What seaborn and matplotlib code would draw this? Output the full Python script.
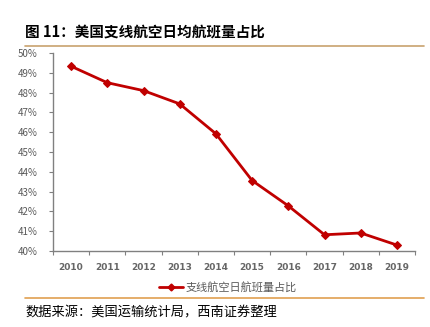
import matplotlib
matplotlib.use("Agg")
import matplotlib.pyplot as plt
import seaborn as sns
import pandas as pd
import numpy as np
from matplotlib.ticker import FixedLocator, FuncFormatter
from matplotlib.lines import Line2D

years = ["2010", "2011", "2012", "2013", "2014", "2015", "2016", "2017", "2018", "2019"]
share = [49.33, 48.50, 48.10, 47.43, 45.92, 43.56, 42.28, 40.82, 40.91, 40.30]
series_name = "支线航空日航班量占比"
title = "图 11：美国支线航空日均航班量占比"
source = "数据来源：美国运输统计局，西南证券整理"
y_ticks = [40, 41, 42, 43, 44, 45, 46, 47, 48, 49, 50]

sns.set_style("white")
plt.rcParams['font.family'] = ['Noto Sans CJK SC', 'DejaVu Sans']

df = pd.DataFrame({"year": years, "share": share})

fig = plt.figure(figsize=(4.31, 3.27), dpi=100)
ax = fig.add_axes([53/431, 1-251/327, (415-53)/431, (251-53)/327])

red = "#C00000"
sns.lineplot(data=df, x="year", y="share", ax=ax, color=red, linewidth=2,
             marker="D", markersize=4.5, markeredgecolor=red, sort=False, legend=False)

ax.set_ylim(40, 50)
ax.set_xlim(-0.5, len(years) - 0.5)
ax.set_yticks(y_ticks)
ax.yaxis.set_major_formatter(FuncFormatter(lambda v, p: f"{int(round(v))}%"))
ax.set_xticks(range(len(years)))
ax.set_xticklabels(years)
ax.xaxis.set_minor_locator(FixedLocator(np.arange(-0.5, len(years), 1.0)))
ax.set_xlabel("")
ax.set_ylabel("")

gray = "#595959"
for s in ["top", "right"]:
    ax.spines[s].set_visible(False)
for s in ["left", "bottom"]:
    ax.spines[s].set_color("#808080")
    ax.spines[s].set_linewidth(1.0)

ax.tick_params(axis="y", which="major", direction="out", length=3, width=0.8,
               color="#808080", labelsize=7, labelcolor=gray, pad=8, left=True)
ax.tick_params(axis="x", which="major", length=0, labelsize=6.5, labelcolor="#666666", pad=9)
ax.tick_params(axis="x", which="minor", direction="out", length=3, width=0.8,
               color="#808080", bottom=True)
for lab in ax.get_xticklabels():
    lab.set_fontweight("bold")
    lab.set_fontfamily(["DejaVu Sans"])

handle = Line2D([], [], color=red, linewidth=2, marker="D", markersize=3.5)
leg = fig.legend([handle], [series_name], loc="center", bbox_to_anchor=(228/431, 1-287/327),
                 frameon=False, fontsize=8, handlelength=2.2, handletextpad=0.2)
for t in leg.get_texts():
    t.set_color(gray)

fig.text(25/431, 1-32/327, title, fontsize=10.5, fontweight="bold", va="center", ha="left", color="black")
fig.add_artist(Line2D([25/431, 424/431], [1-45.5/327, 1-45.5/327], color="#C8A26E", linewidth=1.2))
fig.add_artist(Line2D([25/431, 424/431], [1-298/327, 1-298/327], color="#E0A050", linewidth=1.2))
fig.text(25/431, 1-313/327, source, fontsize=9.5, fontstyle="italic", va="center", ha="left", color="black")

fig.savefig("out.png", dpi=100)
